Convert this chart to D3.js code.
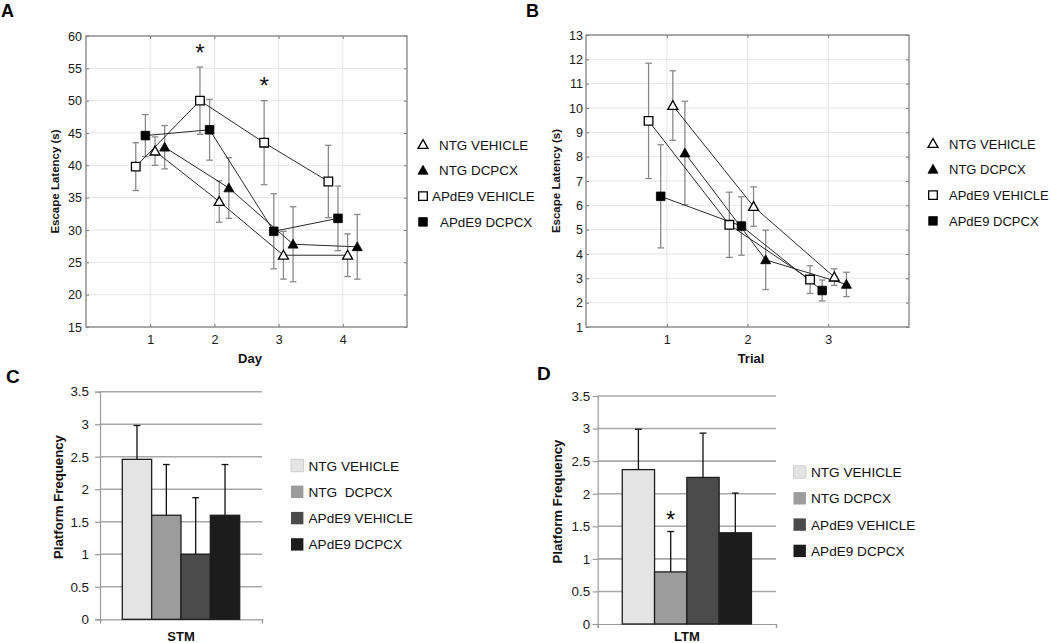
<!DOCTYPE html>
<html><head><meta charset="utf-8">
<script src="https://cdn.jsdelivr.net/npm/d3@7"></script>
<style>
body{margin:0;background:#fff}
svg{display:block}
text{font-family:"Liberation Sans",Arial,Helvetica,sans-serif}
</style>
</head><body>
<svg id="c" width="1050" height="643"></svg>
<script>
// ---------------- DATA ----------------
const seriesNames = ["NTG VEHICLE", "NTG DCPCX", "APdE9 VEHICLE", "APdE9 DCPCX"];
const barLegendNamesC = ["NTG VEHICLE", "NTG  DCPCX", "APdE9 VEHICLE", "APdE9 DCPCX"];
const barLegendNamesD = ["NTG VEHICLE", "NTG DCPCX", "APdE9 VEHICLE", "APdE9 DCPCX"];

// Panel A: escape latency per day
const days = [1, 2, 3, 4];
const dayTickLabels = ["1", "2", "3", "4"];
const latencyTicksA = [15, 20, 25, 30, 35, 40, 45, 50, 55, 60];
const dayMeanNTGVehicle   = [42.2, 34.4, 26.1, 26.1];
const dayErrNTGVehicle    = [2.2, 3.2, 3.7, 3.3];
const dayMeanNTGDcpcx     = [42.8, 36.5, 27.8, 27.4];
const dayErrNTGDcpcx      = [3.35, 4.7, 5.8, 5.0];
const dayMeanAPVehicle    = [39.8, 50.0, 43.5, 37.5];
const dayErrAPVehicle     = [3.7, 5.2, 6.5, 5.6];
const dayMeanAPDcpcx      = [44.6, 45.5, 29.8, 31.8];
const dayErrAPDcpcx       = [3.25, 4.7, 5.8, 5.0];
const daySignificant      = [2, 3];   // asterisks (APdE9 VEHICLE)

// Panel B: escape latency per trial
const trials = [1, 2, 3];
const trialTickLabels = ["1", "2", "3"];
const latencyTicksB = [1, 2, 3, 4, 5, 6, 7, 8, 9, 10, 11, 12, 13];
const trialMeanNTGVehicle = [10.1, 5.95, 3.05];
const trialErrNTGVehicle  = [1.43, 0.81, 0.34];
const trialMeanNTGDcpcx   = [8.15, 3.76, 2.75];
const trialErrNTGDcpcx    = [2.13, 1.22, 0.5];
const trialMeanAPVehicle  = [9.47, 5.2, 2.95];
const trialErrAPVehicle   = [2.37, 1.34, 0.57];
const trialMeanAPDcpcx    = [6.37, 5.15, 2.5];
const trialErrAPDcpcx     = [2.12, 1.2, 0.43];

// Panel C / D: platform frequency
const freqTicks = [0, 0.5, 1, 1.5, 2, 2.5, 3, 3.5];
const freqTickLabels = ["0", "0.5", "1", "1.5", "2", "2.5", "3", "3.5"];
const stmMeans = [2.46, 1.6, 1.0, 1.6];
const stmErrs  = [0.52, 0.78, 0.87, 0.78];
const ltmMeans = [2.37, 0.8, 2.25, 1.4];
const ltmErrs  = [0.62, 0.62, 0.68, 0.61];
const ltmSignificant = [1];   // index of bar with asterisk

// ---------------- STYLE ----------------
const svg = d3.select("#c");
const markerKinds = ["triOpen", "triFilled", "sqOpen", "sqFilled"];
const groupOffsets = [0.075, 0.225, -0.225, -0.075];
const barFills = ["#e4e4e4", "#9c9c9c", "#4b4b4b", "#1c1c1c"];

function markerPath(kind) {
  if (kind.startsWith("tri")) {
    const w = 10, h = 8.8;
    return `M0,${-h*0.56}L${w/2},${h*0.44}L${-w/2},${h*0.44}Z`;
  }
  const s = 8.6;
  return `M${-s/2},${-s/2}h${s}v${s}h${-s}Z`;
}
function drawMarker(g, kind, cx, cy) {
  g.append("path").attr("d", markerPath(kind))
    .attr("transform", `translate(${cx},${cy})`)
    .attr("fill", kind.endsWith("Open") ? "#fff" : "#000")
    .attr("stroke", "#000").attr("stroke-width", kind.endsWith("Open") ? 1.3 : 0.8);
}

function linePanel(o) {
  const g = svg.append("g");
  const x = d3.scaleLinear().domain(o.xDomain).range([o.left, o.right]);
  const y = d3.scaleLinear().domain(o.yDomain).range([o.bottom, o.top]);
  // grid
  g.append("g").selectAll("line").data(o.yTicks).join("line")
    .attr("x1", o.left).attr("x2", o.right).attr("y1", d => y(d)).attr("y2", d => y(d))
    .attr("stroke", "#e6e6e6").attr("stroke-width", 1);
  g.append("g").selectAll("line").data(o.xTicks).join("line")
    .attr("y1", o.top).attr("y2", o.bottom).attr("x1", d => x(d)).attr("x2", d => x(d))
    .attr("stroke", "#e6e6e6").attr("stroke-width", 1);
  // axes
  const styleAxis = sel => {
    sel.select(".domain").remove();
    sel.selectAll(".tick line").attr("stroke", "#777");
    sel.selectAll("text").attr("font-size", "12.5px").attr("fill", "#1a1a1a")
      .style("font-family", '"Liberation Sans",Arial,sans-serif');
  };
  g.append("g").attr("transform", `translate(${o.left},0)`)
    .call(d3.axisLeft(y).tickValues(o.yTicks).tickSize(-3).tickPadding(o.yPad)).call(styleAxis);
  g.append("g").attr("transform", `translate(${o.right},0)`)
    .call(d3.axisRight(y).tickValues(o.yTicks).tickSize(-3).tickFormat("")).call(styleAxis);
  g.append("g").attr("transform", `translate(0,${o.bottom})`)
    .call(d3.axisBottom(x).tickValues(o.xTicks).tickFormat((d, i) => o.xLabels[i]).tickSize(-3).tickPadding(8)).call(styleAxis);
  g.append("g").attr("transform", `translate(0,${o.top})`)
    .call(d3.axisTop(x).tickValues(o.xTicks).tickSize(-3).tickFormat("")).call(styleAxis);
  g.append("rect").attr("x", o.left).attr("y", o.top).attr("width", o.right - o.left).attr("height", o.bottom - o.top)
    .attr("fill", "none").attr("stroke", "#8a8a8a").attr("stroke-width", 1.4);

  // error bars
  o.series.forEach((s, si) => {
    s.means.forEach((m, i) => {
      const cx = x(o.xVals[i] + groupOffsets[si]);
      const e = s.errs[i];
      const eg = g.append("g").attr("stroke", "#8a8a8a").attr("stroke-width", 1.3);
      eg.append("line").attr("x1", cx).attr("x2", cx).attr("y1", y(m - e)).attr("y2", y(m + e));
      eg.append("line").attr("x1", cx - 3.3).attr("x2", cx + 3.3).attr("y1", y(m - e)).attr("y2", y(m - e));
      eg.append("line").attr("x1", cx - 3.3).attr("x2", cx + 3.3).attr("y1", y(m + e)).attr("y2", y(m + e));
    });
  });
  // lines
  const line = d3.line().x(d => x(d[0])).y(d => y(d[1]));
  o.series.forEach((s, si) => {
    const pts = s.means.map((m, i) => [o.xVals[i] + groupOffsets[si], m]);
    g.append("path").attr("d", line(pts)).attr("fill", "none").attr("stroke", "#2a2a2a").attr("stroke-width", 1);
  });
  // markers
  o.series.forEach((s, si) => {
    s.means.forEach((m, i) => drawMarker(g, markerKinds[si], x(o.xVals[i] + groupOffsets[si]), y(m)));
  });
  // asterisks
  (o.stars || []).forEach(st => {
    const s = o.series[st.series];
    const i = o.xVals.indexOf(st.x);
    g.append("text").attr("x", x(st.x + groupOffsets[st.series])).attr("y", y(s.means[i] + s.errs[i]) - 6.5)
      .attr("text-anchor", "middle").attr("font-size", "24px").attr("fill", "#111").text("*");
  });
  // axis titles
  g.append("text").attr("transform", `translate(${o.yTitleX},${(o.top + o.bottom) / 2}) rotate(-90)`)
    .attr("text-anchor", "middle").attr("dominant-baseline", "central")
    .attr("font-size", "11.5px").attr("font-weight", "bold").attr("fill", "#111").text("Escape Latency (s)");
  g.append("text").attr("x", o.xTitleX).attr("y", 363).attr("text-anchor", "middle")
    .attr("font-size", "13px").attr("font-weight", "bold").attr("fill", "#111").text(o.xTitle);
  // panel letter
  g.append("text").attr("x", o.letterX).attr("y", 17).attr("font-size", "18px").attr("font-weight", "bold")
    .attr("fill", "#000").text(o.letter);
  // legend
  const lg = g.append("g");
  seriesNames.forEach((n, i) => {
    const yy = o.legendY + i * 25.8;
    drawMarker(lg, markerKinds[i], o.legendSymX, yy);
    lg.append("text").attr("x", o.legendTextX + (o.legendDx ? o.legendDx[i] : 0)).attr("y", yy + 5)
      .attr("font-size", o.legendFont).attr("fill", "#111").text(n);
  });
}

linePanel({
  left: 86, right: 407, top: 36, bottom: 327,
  xDomain: [0, 5], yDomain: [15, 60], xTicks: days, xLabels: dayTickLabels, yTicks: latencyTicksA, yPad: 4,
  xVals: days,
  series: [
    {means: dayMeanNTGVehicle, errs: dayErrNTGVehicle},
    {means: dayMeanNTGDcpcx, errs: dayErrNTGDcpcx},
    {means: dayMeanAPVehicle, errs: dayErrAPVehicle},
    {means: dayMeanAPDcpcx, errs: dayErrAPDcpcx}
  ],
  stars: daySignificant.map(d => ({x: d, series: 2})),
  yTitleX: 55, xTitle: "Day", xTitleX: 250, letter: "A", letterX: 1,
  legendY: 144.5, legendSymX: 423, legendTextX: 439, legendDx: [0, 0, -7, 1], legendFont: "13.4px"
});

linePanel({
  left: 586, right: 909, top: 35, bottom: 327,
  xDomain: [0, 4], yDomain: [1, 13], xTicks: trials, xLabels: trialTickLabels, yTicks: latencyTicksB, yPad: 3,
  xVals: trials,
  series: [
    {means: trialMeanNTGVehicle, errs: trialErrNTGVehicle},
    {means: trialMeanNTGDcpcx, errs: trialErrNTGDcpcx},
    {means: trialMeanAPVehicle, errs: trialErrAPVehicle},
    {means: trialMeanAPDcpcx, errs: trialErrAPDcpcx}
  ],
  yTitleX: 555.5, xTitle: "Trial", xTitleX: 751, letter: "B", letterX: 526,
  legendY: 143.5, legendSymX: 933, legendTextX: 949, legendFont: "13px"
});

function barPanel(o) {
  const g = svg.append("g");
  const y = d3.scaleLinear().domain([0, 3.5]).range([o.bottom, o.top]);
  const x0 = d3.scaleBand().domain([o.category]).range([o.left, o.right]).paddingInner(0).paddingOuter(o.outerPad);
  const x1 = d3.scaleBand().domain(d3.range(o.means.length)).range([0, x0.bandwidth()]);
  // grid
  g.append("g").selectAll("line").data(freqTicks.slice(1)).join("line")
    .attr("x1", o.left).attr("x2", o.right).attr("y1", d => y(d)).attr("y2", d => y(d))
    .attr("stroke", "#a8a8a8").attr("stroke-width", 1.6);
  // y axis
  const ay = g.append("g").attr("transform", `translate(${o.left},0)`)
    .call(d3.axisLeft(y).tickValues(freqTicks).tickFormat((d, i) => freqTickLabels[i]).tickSize(5).tickPadding(o.yPad));
  ay.select(".domain").attr("stroke", "#9a9a9a").attr("stroke-width", 1.2);
  ay.selectAll(".tick line").attr("stroke", "#9a9a9a").attr("stroke-width", 1.2);
  ay.selectAll("text").attr("font-size", "13.4px").attr("fill", "#1a1a1a")
    .style("font-family", '"Liberation Sans",Arial,sans-serif');
  // x axis
  const ax = g.append("g").attr("transform", `translate(0,${o.bottom})`)
    .call(d3.axisBottom(d3.scaleLinear().domain([0, 1]).range([o.left, o.right])).tickValues([0, 1]).tickSize(4).tickFormat(""));
  ax.select(".domain").attr("stroke", "#9a9a9a").attr("stroke-width", 1.2);
  ax.selectAll(".tick line").attr("stroke", "#9a9a9a").attr("stroke-width", 1.2);
  // bars
  const bx = i => x0(o.category) + x1(i);
  g.append("g").selectAll("rect").data(o.means).join("rect")
    .attr("x", (d, i) => bx(i)).attr("width", x1.bandwidth())
    .attr("y", d => y(d)).attr("height", d => y(0) - y(d))
    .attr("fill", (d, i) => barFills[i]).attr("stroke", "#1e1e1e").attr("stroke-width", 1.3);
  // error bars (upper only)
  o.means.forEach((m, i) => {
    const cx = bx(i) + x1.bandwidth() / 2;
    const eg = g.append("g").attr("stroke", "#111").attr("stroke-width", 1.3);
    eg.append("line").attr("x1", cx).attr("x2", cx).attr("y1", y(m)).attr("y2", y(m + o.errs[i]));
    eg.append("line").attr("x1", cx - 3.4).attr("x2", cx + 3.4).attr("y1", y(m + o.errs[i])).attr("y2", y(m + o.errs[i]));
  });
  (o.stars || []).forEach(i => {
    const cx = bx(i) + x1.bandwidth() / 2;
    g.append("text").attr("x", cx).attr("y", y(o.means[i] + o.errs[i]) - 3.5).attr("text-anchor", "middle")
      .attr("font-size", "24px").attr("fill", "#111").text("*");
  });
  // titles
  g.append("text").attr("transform", `translate(${o.yTitleX},${o.yTitleY}) rotate(-90)`)
    .attr("text-anchor", "middle").attr("dominant-baseline", "central")
    .attr("font-size", "13.2px").attr("font-weight", "bold").attr("fill", "#111").text("Platform Frequency");
  g.append("text").attr("x", x0(o.category) + x0.bandwidth() / 2).attr("y", 641).attr("text-anchor", "middle")
    .attr("font-size", "13px").attr("font-weight", "bold").attr("fill", "#111").text(o.category);
  g.append("text").attr("x", o.letterX).attr("y", o.letterY).attr("font-size", "19px").attr("font-weight", "bold")
    .attr("fill", "#000").text(o.letter);
  // legend
  o.legendNames.forEach((n, i) => {
    const yy = o.legendY + i * 26.3;
    g.append("rect").attr("x", o.legendX).attr("y", yy - 6.2).attr("width", 12.4).attr("height", 12.4)
      .attr("fill", barFills[i]).attr("stroke", i === 0 ? "#cfcfcf" : "none");
    g.append("text").attr("x", o.legendX + 17.5).attr("y", yy + 5).attr("font-size", "13.6px")
      .attr("fill", "#111").style("white-space", "pre").text(n);
  });
}

barPanel({
  left: 100, right: 262, top: 391.7, bottom: 619.3, outerPad: 0.19, category: "STM",
  means: stmMeans, errs: stmErrs, yPad: 6, yTitleX: 58, yTitleY: 497,
  letter: "C", letterX: 6, letterY: 383, legendX: 291, legendY: 465.5, legendNames: barLegendNamesC
});
barPanel({
  left: 597.7, right: 776, top: 396, bottom: 624, outerPad: 0.19, category: "LTM",
  means: ltmMeans, errs: ltmErrs, stars: ltmSignificant, yPad: 2.5, yTitleX: 557, yTitleY: 501.5,
  letter: "D", letterX: 537, letterY: 380, legendX: 793.5, legendY: 472, legendNames: barLegendNamesD
});
</script>
</body></html>
